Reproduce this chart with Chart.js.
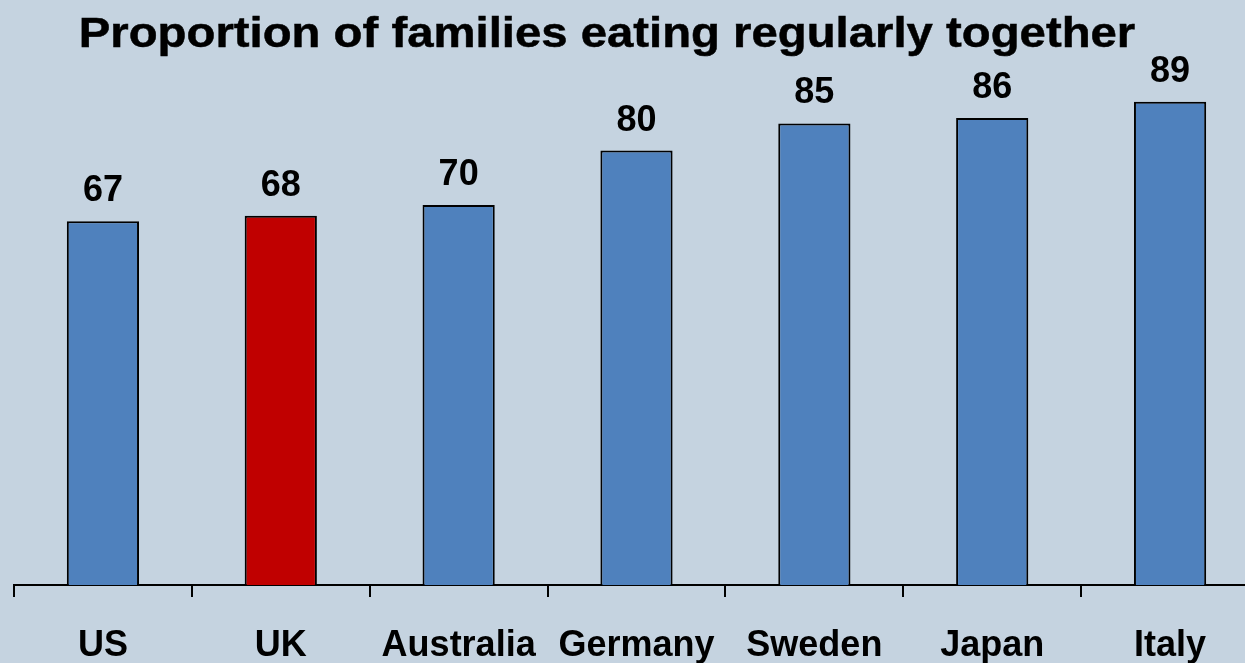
<!DOCTYPE html>
<html>
<head>
<meta charset="utf-8">
<script src="https://cdn.jsdelivr.net/npm/chart.js@4.4.1/dist/chart.umd.min.js"></script>
<style>
  html, body { margin: 0; padding: 0; overflow: hidden; background: #c5d3e0; }
  canvas { display: block; }
</style>
</head>
<body>
<canvas id="chart" width="1262" height="663"></canvas>
<script>
const countries = ['US', 'UK', 'Australia', 'Germany', 'Sweden', 'Japan', 'Italy'];
const shares = [67, 68, 70, 80, 85, 86, 89];
const highlight = 'UK';
const chartTitle = 'Proportion of families eating regularly together';

const FONT = '"Liberation Sans", Arial, Helvetica, sans-serif';

// value above each bar
const valueLabels = {
  id: 'valueLabels',
  afterDatasetsDraw(chart) {
    const ctx = chart.ctx;
    const meta = chart.getDatasetMeta(0);
    ctx.save();
    ctx.fillStyle = '#000';
    ctx.font = 'bold 36px ' + FONT;
    ctx.textAlign = 'center';
    ctx.textBaseline = 'alphabetic';
    meta.data.forEach((bar, i) => {
      ctx.fillText(String(shares[i]), bar.x, bar.y - 20);
    });
    ctx.restore();
  }
};

// heading, slightly stretched sideways
const heading = {
  id: 'heading',
  afterDraw(chart) {
    const ctx = chart.ctx;
    ctx.save();
    ctx.fillStyle = '#000';
    ctx.strokeStyle = '#000';
    ctx.lineWidth = 0.5;
    ctx.font = 'bold 43px ' + FONT;
    ctx.textAlign = 'center';
    ctx.textBaseline = 'alphabetic';
    ctx.translate(607, 47);
    ctx.scale(1.1, 1);
    ctx.fillText(chartTitle, 0, 0);
    ctx.strokeText(chartTitle, 0, 0);
    ctx.restore();
  }
};

new Chart(document.getElementById('chart'), {
  type: 'bar',
  data: {
    labels: countries,
    datasets: [{
      data: shares,
      backgroundColor: countries.map(c => c === highlight ? '#c00000' : '#4f81bd'),
      borderColor: '#000',
      borderWidth: 2,
      borderSkipped: 'bottom',
      categoryPercentage: 1,
      barPercentage: 0.406
    }]
  },
  options: {
    responsive: false,
    animation: false,
    layout: { padding: { left: 14, right: 3, top: 42, bottom: -32 } },
    plugins: {
      legend: { display: false },
      title: { display: false },
      tooltip: { enabled: false }
    },
    scales: {
      x: {
        grid: {
          offset: true,
          drawOnChartArea: false,
          color: '#000',
          lineWidth: 2,
          tickColor: '#000',
          tickWidth: 2,
          tickLength: 12
        },
        border: { display: true, color: '#000', width: 2 },
        ticks: {
          color: '#000',
          font: { family: FONT, size: 36, weight: 'bold', lineHeight: 1 },
          padding: 31,
          maxRotation: 0,
          autoSkip: false
        }
      },
      y: {
        display: false,
        min: 0,
        max: 100
      }
    }
  },
  plugins: [valueLabels, heading]
});
</script>
</body>
</html>
